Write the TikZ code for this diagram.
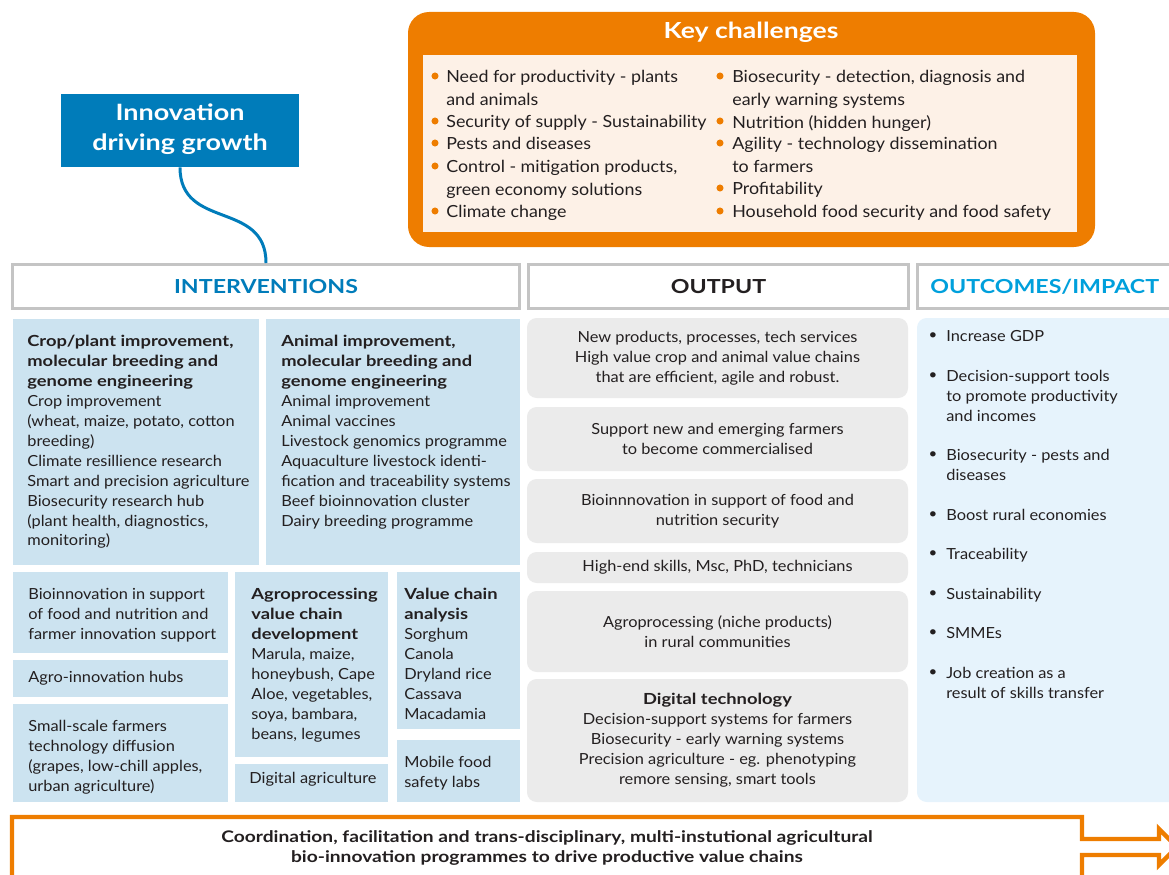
\documentclass[tikz,border=0pt]{standalone}
\usepackage{fontspec}
\setmainfont{Lato}[FakeStretch=1.07, BoldFeatures={FakeStretch=1.2}]
\usepackage{xcolor}
\usepackage{tikz}
\usetikzlibrary{positioning,fit,shapes,backgrounds,arrows}

\definecolor{orng}{RGB}{238,125,0}
\definecolor{cream}{RGB}{253,241,231}
\definecolor{dblue}{RGB}{0,124,186}
\definecolor{lblue}{RGB}{0,160,220}
\definecolor{iblue}{RGB}{204,227,240}
\definecolor{oblue}{RGB}{230,243,252}
\definecolor{ogray}{RGB}{235,235,235}
\definecolor{hgray}{RGB}{196,196,196}
\definecolor{ink}{RGB}{35,31,32}

\begin{document}
\begin{tikzpicture}[x=0.02cm, y=-0.02cm, >=stealth,
  every node/.style={text=ink},
  cell/.style={inner sep=0pt},
  ibox/.style={cell, fill=iblue},
  obox/.style={cell, fill=ogray, rounded corners=5.5pt},
  otext/.style={inner sep=0pt, align=center, font=\fontsize{8.7}{11.34}\selectfont},
  hbox/.style={cell, draw=hgray, line width=1.7pt, fill=white},
  htext/.style={inner sep=0pt, font=\bfseries\fontsize{11}{14}\selectfont},
  itext/.style={anchor=north west, inner sep=0pt, align=left, font=\fontsize{8.7}{11.34}\selectfont},
  ktext/.style={anchor=north west, inner sep=0pt, align=left, font=\fontsize{9.5}{12.75}\selectfont},
  kbul/.style={circle, fill=orng, inner sep=0pt, minimum size=4pt}]

\useasboundingbox (0,0) rectangle (1169,875);
\clip (0,0) rectangle (1169,875);

% key challenges
\node[cell, fill=orng, rounded corners=12pt, fit={(408,12) (1095,247)}] (kc) {};
\node[cell, fill=cream, fit={(423,55) (1077,232)}] (kc-in) {};
\node[inner sep=0pt, text=white, font=\bfseries\fontsize{12.6}{16}\selectfont] (kc-title) at (751,32) {Key challenges};

\foreach \yy/\txt [count=\i] in {77/{Need for productivity - plants\\and animals}, 122/{Security of supply - Sustainability}, 144/{Pests and diseases}, 167/{Control - mitigation products,\\green economy solutions}, 212/{Climate change}}
{
  \node[kbul] (kl-\i) at (435,\yy-1) {};
  \node[ktext] (kl-txt-\i) at (446,\yy-7) {\txt};
}

\foreach \yy/\txt [count=\i] in {77/{Biosecurity - detection, diagnosis and\\early warning systems}, 122/{Nutrition (hidden hunger)}, 144/{Agility - technology dissemination\\to farmers}, 189/{Profitability}, 212/{Household food security and food safety}}
{
  \node[kbul] (kr-\i) at (720,\yy-1) {};
  \node[ktext] (kr-txt-\i) at (732,\yy-7) {\txt};
}

% innovation
\node[cell, fill=dblue, fit={(61,94) (299,167)}] (innov) {};
\node[inner sep=0pt, text=white, align=center, font=\bfseries\fontsize{12.8}{17}\selectfont] (innov-txt) at (180,129) {Innovation\\driving growth};

% headers
\node[hbox, fit={(12.5,264.5) (519.5,308.5)}] (h-int) {};
\node[hbox, fit={(528.5,264.5) (908.5,308.5)}] (h-out) {};
\node[hbox, fit={(917.5,264.5) (1172,308.5)}] (h-imp) {};
\node[htext, text=dblue] (h-int-txt) at (h-int) {INTERVENTIONS};
\node[htext] (h-out-txt) at (h-out) {OUTPUT};
\node[htext, text=lblue] (h-imp-txt) at (h-imp) {OUTCOMES/IMPACT};

\draw[dblue, line width=1.7pt] (innov.south) .. controls +(0,63) and +(0,-63) .. (h-int.north);

% interventions
\node[ibox, fit={(13,319) (259,565)}] (crop) {};
\node[ibox, fit={(266,319) (520,565)}] (animal) {};
\node[ibox, fit={(13,572) (228,653)}] (bioinno) {};
\node[ibox, fit={(13,660) (228,697)}] (hubs) {};
\node[ibox, fit={(13,704) (228,802)}] (small) {};
\node[ibox, fit={(235,572) (388,757)}] (agro) {};
\node[ibox, fit={(235,764) (388,802)}] (digi) {};
\node[ibox, fit={(397,572) (520,729)}] (vchain) {};
\node[ibox, fit={(397,740) (520,802)}] (labs) {};

\node[itext] (crop-txt) at (27,335) {\textbf{Crop/plant improvement,}\\\textbf{molecular breeding and}\\\textbf{genome engineering}\\Crop improvement\\(wheat, maize, potato, cotton\\breeding)\\Climate resillience research\\Smart and precision agriculture\\Biosecurity research hub\\(plant health, diagnostics,\\monitoring)};
\node[itext] (animal-txt) at (281,335) {\textbf{Animal improvement,}\\\textbf{molecular breeding and}\\\textbf{genome engineering}\\Animal improvement\\Animal vaccines\\Livestock genomics programme\\Aquaculture livestock identi-\\fication and traceability systems\\Beef bioinnovation cluster\\Dairy breeding programme};
\node[itext] (bioinno-txt) at (28,588) {Bioinnovation in support\\of food and nutrition and\\farmer innovation support};
\node[itext] (hubs-txt) at (28,671) {Agro-innovation hubs};
\node[itext] (small-txt) at (28,720) {Small-scale farmers\\technology diffusion\\(grapes, low-chill apples,\\urban agriculture)};
\node[itext] (agro-txt) at (251,588) {\textbf{Agroprocessing}\\\textbf{value chain}\\\textbf{development}\\Marula, maize,\\honeybush, Cape\\Aloe, vegetables,\\soya, bambara,\\beans, legumes};
\node[itext] (digi-txt) at (249,772) {Digital agriculture};
\node[itext] (vchain-txt) at (404,588) {\textbf{Value chain}\\\textbf{analysis}\\Sorghum\\Canola\\Dryland rice\\Cassava\\Macadamia};
\node[itext] (labs-txt) at (404,756) {Mobile food\\safety labs};

% output
\node[obox, fit={(527,318) (908,398)}] (out-1) {};
\node[obox, fit={(527,407) (908,471)}] (out-2) {};
\node[obox, fit={(527,479) (908,543)}] (out-3) {};
\node[obox, fit={(527,552) (908,583)}] (out-4) {};
\node[obox, fit={(527,591) (908,672)}] (out-5) {};
\node[obox, fit={(527,679) (908,802)}] (out-6) {};
\node[otext] (out-1-txt) at (out-1) {New products, processes, tech services\\High value crop and animal value chains\\that are efficient, agile and robust.};
\node[otext] (out-2-txt) at (out-2) {Support new and emerging farmers\\to become commercialised};
\node[otext] (out-3-txt) at (out-3) {Bioinnnovation in support of food and\\nutrition security};
\node[otext] (out-4-txt) at (out-4) {High-end skills, Msc, PhD, technicians};
\node[otext] (out-5-txt) at (out-5) {Agroprocessing (niche products)\\in rural communities};
\node[otext] (out-6-txt) at (out-6) {\textbf{Digital technology}\\Decision-support systems for farmers\\Biosecurity - early warning systems\\Precision agriculture - eg. phenotyping\\remore sensing, smart tools};

% outcomes
\node[cell, fill=oblue, rounded corners=5.5pt, fit={(917,318) (1185,802)}] (impact) {};
\foreach \yy/\txt [count=\i] in {336/{Increase GDP}, 376/{Decision-support tools\\to promote productivity\\and incomes}, 455/{Biosecurity - pests and\\diseases}, 515/{Boost rural economies}, 554/{Traceability}, 594/{Sustainability}, 633/{SMMEs}, 673/{Job creation as a\\result of skills transfer}}
{
  \node[inner sep=0pt, font=\fontsize{8}{10}\selectfont] (ib-\i) at (933,\yy) {\textbullet};
  \node[itext] (it-\i) at (946,\yy-6) {\txt};
}

% coordination
\draw[orng, line width=2.5pt] (12,890) -- (12,817) -- (1082,817) -- (1082,839) -- (1159,839) -- (1159,829) -- (1177,847) -- (1159,865) -- (1159,855) -- (1082,855) -- (1082,890);
\node[font=\bfseries\fontsize{9.1}{11.34}\selectfont, align=center] (coord) at (547,848) {Coordination, facilitation and trans-disciplinary, multi-instutional agricultural\\bio-innovation programmes to drive productive value chains};

\end{tikzpicture}
\end{document}
